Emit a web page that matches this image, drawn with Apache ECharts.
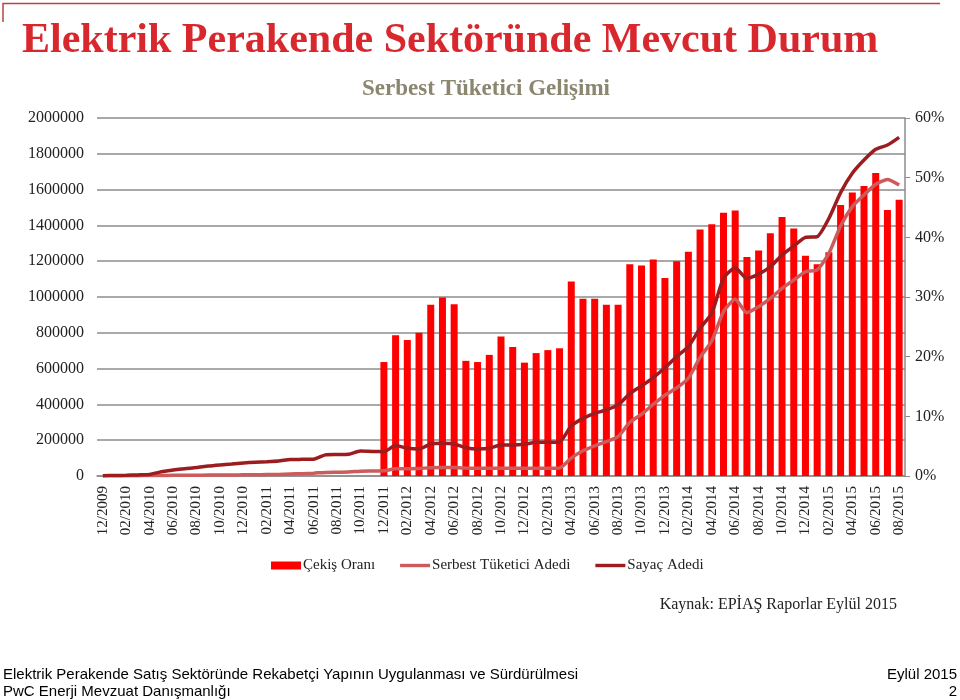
<!DOCTYPE html>
<html>
<head>
<meta charset="utf-8">
<script src="https://cdn.jsdelivr.net/npm/echarts@6/dist/echarts.min.js"></script>
<style>html,body{margin:0;padding:0;background:#fff;}#c{width:960px;height:700px;}</style>
</head>
<body>
<div id="c"></div>
<script>
var categories = [
 '12/2009','01/2010','02/2010','03/2010','04/2010','05/2010','06/2010','07/2010','08/2010','09/2010','10/2010','11/2010',
 '12/2010','01/2011','02/2011','03/2011','04/2011','05/2011','06/2011','07/2011','08/2011','09/2011','10/2011','11/2011',
 '12/2011','01/2012','02/2012','03/2012','04/2012','05/2012','06/2012','07/2012','08/2012','09/2012','10/2012','11/2012',
 '12/2012','01/2013','02/2013','03/2013','04/2013','05/2013','06/2013','07/2013','08/2013','09/2013','10/2013','11/2013',
 '12/2013','01/2014','02/2014','03/2014','04/2014','05/2014','06/2014','07/2014','08/2014','09/2014','10/2014','11/2014',
 '12/2014','01/2015','02/2015','03/2015','04/2015','05/2015','06/2015','07/2015','08/2015'
];
// Çekiş Oranı (%), right axis
var cekisOrani = [
 null,null,null,null,null,null,null,null,null,null,null,null,
 null,null,null,null,null,null,null,null,null,null,null,null,
 19.1,23.6,22.8,24.0,28.7,29.9,28.8,19.3,19.1,20.3,23.4,21.6,
 19.0,20.6,21.1,21.4,32.6,29.7,29.7,28.7,28.7,35.5,35.3,36.3,
 33.2,36.0,37.6,41.3,42.2,44.1,44.5,36.7,37.8,40.7,43.4,41.5,
 36.9,35.5,37.5,45.4,47.5,48.6,50.8,44.6,46.3
];
// Serbest Tüketici Adedi, left axis
var serbestTuketici = [
 1000,1000,1500,2000,2500,3000,3500,4000,4500,5000,5500,6000,
 6500,7000,8000,9000,11000,13000,16000,20000,21000,22000,27000,28000,
 29000,40000,41000,42000,46000,47000,47000,44000,43000,43000,43000,43000,
 43000,43000,43000,44000,100000,141000,168000,192000,220000,300000,345000,400000,
 452000,492000,546000,663000,754000,918000,987000,912000,946000,992000,1048000,1095000,
 1141000,1151000,1244000,1397000,1505000,1570000,1630000,1657000,1626000
];
// Sayaç Adedi, left axis
var sayacAdedi = [
 2000,3000,4000,6000,9000,24000,33000,41000,47000,56000,62000,67000,
 73000,77000,80000,84000,92000,93000,94000,118000,120000,122000,139000,137000,
 136000,170000,155000,151000,179000,183000,179000,158000,151000,155000,173000,173000,
 177000,188000,188000,190000,280000,322000,350000,369000,397000,460000,503000,550000,
 605000,667000,723000,825000,909000,1104000,1164000,1104000,1128000,1169000,1235000,1285000,
 1333000,1337000,1439000,1583000,1691000,1765000,1825000,1849000,1892000
];
var seriesNames = ['Çekiş Oranı','Serbest Tüketici Adedi','Sayaç Adedi'];

var SERIF = '"Liberation Serif", "DejaVu Serif", serif';
var SANS = '"Liberation Sans", Arial, sans-serif';
var chart = echarts.init(document.getElementById('c'), null, {renderer:'canvas'});
chart.setOption({
  animation: false,
  backgroundColor: '#fff',
  grid: {left: 97, right: 55, top: 118, bottom: 224, containLabel: false},
  legend: {
    left: 266, top: 553, itemWidth: 30, itemHeight: 8, itemGap: 25,
    textStyle: {fontFamily: SERIF, fontSize: 15, color: '#222', padding: [0,0,0,-3]},
    data: [
      {name: seriesNames[0], icon: 'rect'},
      {name: seriesNames[1], icon: 'path://M0,0M30,8M0,2.3h30v3.4h-30z'},
      {name: seriesNames[2], icon: 'path://M0,0M30,8M0,2.3h30v3.4h-30z'}
    ]
  },
  xAxis: {
    type: 'category', data: categories, boundaryGap: true,
    axisLine: {show: true, lineStyle: {color: '#8c8c8c', width: 1.5}},
    axisTick: {show: false},
    axisLabel: {interval: 1, rotate: 90, margin: 10, fontFamily: SERIF, fontSize: 15, color: '#222'}
  },
  yAxis: [
    {type: 'value', min: 0, max: 2000000, interval: 200000,
     axisLine: {show: false}, axisTick: {show: false},
     axisLabel: {margin: 13, fontFamily: SERIF, fontSize: 16, color: '#222',
                 formatter: function (v) { return String(v); }},
     splitLine: {show: true, lineStyle: {color: '#8c8c8c', width: 1.5}}},
    {type: 'value', min: 0, max: 60, interval: 10, position: 'right',
     axisLine: {show: true, lineStyle: {color: '#8c8c8c', width: 1.5}},
     axisTick: {show: true, length: 5, lineStyle: {color: '#8c8c8c'}},
     axisLabel: {margin: 10, formatter: '{value}%', fontFamily: SERIF, fontSize: 16, color: '#222'},
     splitLine: {show: false}}
  ],
  series: [
    {name: seriesNames[0], type: 'bar', yAxisIndex: 1, data: cekisOrani, barWidth: 7,
     itemStyle: {color: '#ff0000'}, z: 2},
    {name: seriesNames[1], type: 'line', yAxisIndex: 0, data: serbestTuketici, smooth: 0.2,
     showSymbol: false, symbol: 'none', lineStyle: {color: '#cd5b5b', width: 3.5},
     itemStyle: {color: '#cd5b5b'}, z: 3},
    {name: seriesNames[2], type: 'line', yAxisIndex: 0, data: sayacAdedi, smooth: 0.2,
     showSymbol: false, symbol: 'none', lineStyle: {color: '#9c1c20', width: 3.5},
     itemStyle: {color: '#9c1c20'}, z: 4}
  ],
  graphic: [
    {type: 'polyline', shape: {points: [[3,22],[3,3.5],[940,3.5]]}, style: {stroke: '#b8453d', lineWidth: 1.5, fill: null}},
    {type: 'text', x: 22, y: 20, style: {text: 'Elektrik Perakende Sektöründe Mevcut Durum', font: 'bold 42px ' + SERIF, fill: '#d9272e', textVerticalAlign: 'top'}},
    {type: 'text', x: 486, y: 89, style: {text: 'Serbest Tüketici Gelişimi', font: 'bold 23px ' + SERIF, fill: '#8b8670', textAlign: 'center', textVerticalAlign: 'middle'}},
    {type: 'text', x: 897, y: 605, style: {text: 'Kaynak: EPİAŞ Raporlar Eylül 2015', font: '16px ' + SERIF, fill: '#222', textAlign: 'right', textVerticalAlign: 'middle'}},
    {type: 'text', x: 3, y: 675, style: {text: 'Elektrik Perakende Satış Sektöründe Rekabetçi Yapının Uygulanması ve Sürdürülmesi', font: '15px ' + SANS, fill: '#000', textVerticalAlign: 'middle'}},
    {type: 'text', x: 3, y: 692, style: {text: 'PwC Enerji Mevzuat Danışmanlığı', font: '15px ' + SANS, fill: '#000', textVerticalAlign: 'middle'}},
    {type: 'text', x: 957, y: 675, style: {text: 'Eylül 2015', font: '15px ' + SANS, fill: '#000', textAlign: 'right', textVerticalAlign: 'middle'}},
    {type: 'text', x: 957, y: 692, style: {text: '2', font: '15px ' + SANS, fill: '#000', textAlign: 'right', textVerticalAlign: 'middle'}}
  ]
});
</script>
</body>
</html>
